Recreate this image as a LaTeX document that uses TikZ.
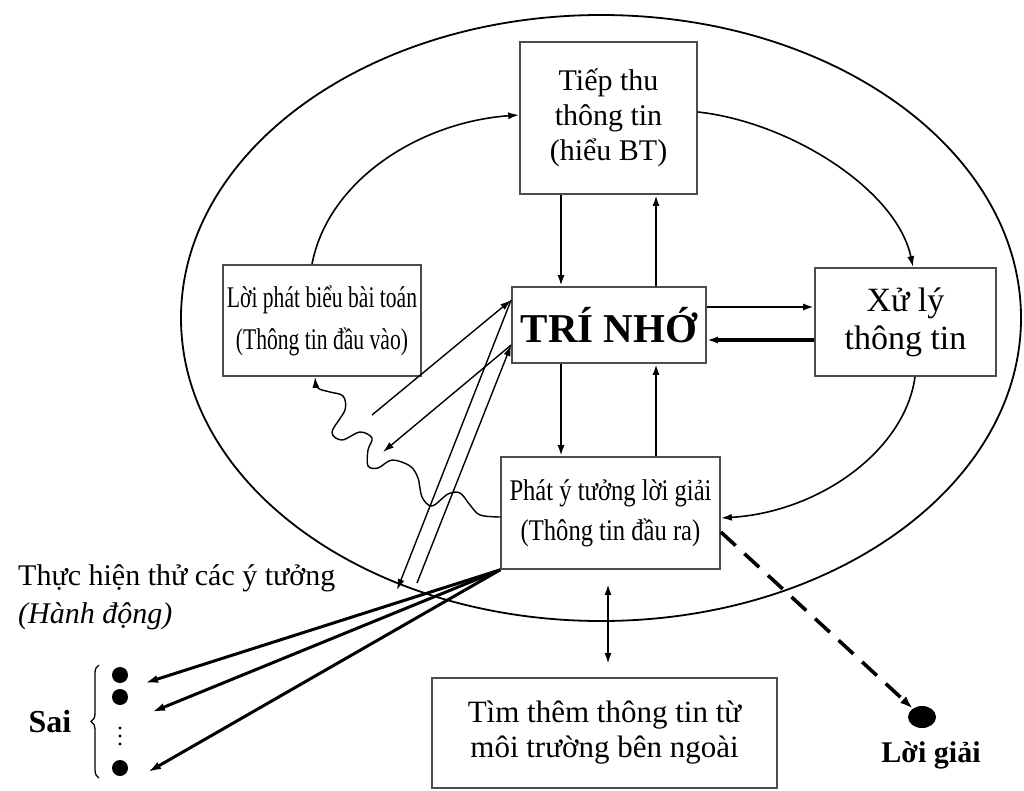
\documentclass[tikz,border=0pt]{standalone}
\usepackage{fontspec}
\setmainfont{Liberation Serif}
\newfontfamily\narrowfont[FakeStretch=0.72]{Liberation Serif}
\newfontfamily\semifont[FakeStretch=0.82]{Liberation Serif}
\usetikzlibrary{arrows.meta,decorations.pathreplacing,shapes.geometric}
\begin{document}
\begin{tikzpicture}[x=1pt,y=-1pt,
  box/.style={draw=black!70, line width=1.7pt, inner sep=0pt, align=center, text=black},
  tipend/.style={-{Latex[length=11pt,width=7pt]}},
  link/.style={tipend, line width=2.3pt},
  fine/.style={tipend, line width=1.4pt},
  curve/.style={tipend, line width=1.6pt},
  heavy/.style={-{Latex[length=13pt,width=8pt]}, line width=3pt},
  dashlink/.style={-{Latex[length=13pt,width=9pt]}, line width=3.6pt, dash pattern=on 20pt off 12pt},
  dot/.style={circle, fill=black, minimum size=16pt, inner sep=0pt},
  txt/.style={font=\fontsize{30}{35}\selectfont, text=black}
]
\useasboundingbox (0,0) rectangle (1024,790);

% outer loop
\draw[line width=1.8pt] (601,318) ellipse [x radius=420, y radius=303];

% boxes
\node[box, minimum width=177pt, minimum height=152pt, font=\fontsize{30}{35}\selectfont] (tiep) at (608.5,118) {Tiếp thu\\thông tin\\(hiểu BT)};
\node[box, minimum width=194pt, minimum height=76pt, font=\bfseries\fontsize{41}{45}\selectfont] (tri) at (609,325) {TRÍ NHỚ};
\node[box, minimum width=181pt, minimum height=108pt, font=\fontsize{34}{38}\selectfont] (xuly) at (905.5,322) {Xử lý\\thông tin};
\node[box, minimum width=198pt, minimum height=111pt, font=\narrowfont\fontsize{30}{42}\selectfont] (loi) at (322,320.5) {Lời phát biểu bài toán\\(Thông tin đầu vào)};
\node[box, minimum width=219pt, minimum height=112pt, font=\semifont\fontsize{30}{40}\selectfont] (phat) at (610.5,513) {Phát ý tưởng lời giải\\(Thông tin đầu ra)};
\node[box, minimum width=345pt, minimum height=110pt, font=\fontsize{31}{35}\selectfont] (tim) at (604.5,733) {Tìm thêm thông tin từ\\môi trường bên ngoài};

% free labels
\node[txt, anchor=base west, inner sep=0pt] (thuc) at (18,585) {Thực hiện thử các ý tưởng};
\node[txt, anchor=base west, inner sep=0pt, font=\itshape\fontsize{30}{35}\selectfont] (hanh) at (18,623) {(Hành động)};
\node[txt, font=\bfseries\fontsize{32}{36}\selectfont] (sai) at (50,722) {Sai};
\node[txt, anchor=base, font=\bfseries\fontsize{30}{35}\selectfont] (loigiai) at (931,762) {Lời giải};

% wrong attempts
\node[dot] (s1) at (120,675) {};
\node[dot] (s2) at (120,697) {};
\node[dot] (s3) at (120,768) {};
\foreach \yy in {728,736,744} \fill (120,\yy) circle (1.6pt);
\draw[line width=1.3pt, decorate, decoration={brace, amplitude=8pt}] (99,778) -- (99,665);

% solution
\node[ellipse, fill=black, minimum width=28pt, minimum height=22pt, inner sep=0pt] (ans) at (922,717) {};

% memory links
\draw[link] (tiep.south -| 561,0) -- (tri.north -| 561,0);
\draw[link] (tri.north -| 656,0) -- (tiep.south -| 656,0);
\draw[link] (tri.south -| 561,0) -- (phat.north -| 561,0);
\draw[link] (phat.north -| 656,0) -- (tri.south -| 656,0);
\draw[link, line width=2.6pt] (tri.east |- 0,307) -- (xuly.west |- 0,307);
\draw[link, line width=4.2pt] (xuly.west |- 0,340) -- (tri.east |- 0,340);

% outer cycle
\draw[curve] (loi.north -| 312,0) .. controls (328,180) and (420,122) .. (tiep.west |- 0,115);
\draw[curve] (tiep.east |- 0,112) .. controls (790,122) and (897,190) .. (xuly.north -| 913,0);
\draw[curve] (xuly.south -| 915,0) .. controls (905,450) and (820,512) .. (phat.east |- 0,518);

% wavy feedback
\draw[curve, line width=1.4pt] plot[smooth, tension=0.55] coordinates {
  (phat.west |- 0,517) (480,515) (470,505) (460,493) (448,494) (432,506)
  (422,497) (418,478) (410,466) (392,460) (378,468) (368,466) (368,450)
  (372,438) (360,432) (342,440) (332,432) (345,410) (343,396) (330,392)
  (318,388) (loi.south -| 315,0)};

% crossing exchanges with memory
\coordinate (a1) at (372,415);
\coordinate (b1) at (383,452);
\coordinate (c1) at (397,590);
\coordinate (d1) at (417,583);
\draw[fine] (a1) -- (tri.west |- 0,300);
\draw[fine] (tri.west |- 0,345) -- (b1);
\draw[fine] (tri.west |- 0,300) -- (c1);
\draw[fine] (d1) -- (tri.west |- 0,345);

% attempts
\coordinate (t1) at (145,683);
\coordinate (t2) at (152,712);
\coordinate (t3) at (148,772);
\draw[heavy] (phat.south west) -- (t1);
\draw[heavy] (phat.south west) -- (t2);
\draw[heavy] (phat.south west) -- (t3);

% outside information
\draw[link, {Latex[length=11pt,width=7pt]}-{Latex[length=11pt,width=7pt]}, shorten <=14pt, shorten >=13pt] (phat.south -| 608,0) -- (tim.north -| 608,0);

% path to the solution
\draw[dashlink] (phat.east |- 0,532) -- (ans);
\end{tikzpicture}
\end{document}
